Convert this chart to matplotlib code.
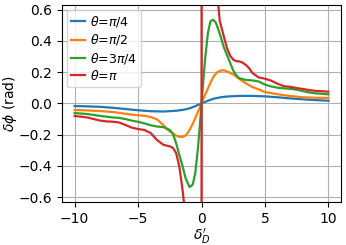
import matplotlib
matplotlib.use('Agg')
import matplotlib.pyplot as plt

# theta = pi/4
x_q1 = [-10, -9, -8, -7, -6, -5, -4, -3, -2, -1.5, -1, -0.5, 0,
        0.5, 1, 1.5, 2, 3, 4, 5, 6, 7, 8, 9, 10]
y_q1 = [-0.017, -0.019, -0.022, -0.028, -0.036, -0.044, -0.05, -0.052, -0.047, -0.042, -0.033, -0.018, 0,
        0.017, 0.031, 0.039, 0.044, 0.048, 0.048, 0.045, 0.039, 0.032, 0.026, 0.021, 0.017]

# theta = pi/2
x_q2 = [-10, -9, -8, -7, -6, -5.5, -5, -4.5, -4, -3.5, -3, -2.5, -2, -1.75, -1.5, -1.25, -1, -0.75, -0.5, -0.25, 0,
        0.25, 0.5, 0.75, 1, 1.25, 1.5, 1.75, 2, 2.5, 3, 3.5, 4, 4.5, 5, 5.5, 6, 7, 8, 9, 10]
y_q2 = [-0.042, -0.045, -0.049, -0.055, -0.066, -0.072, -0.076, -0.079, -0.087, -0.103, -0.14, -0.18, -0.206,
        -0.214, -0.215, -0.205, -0.178, -0.14, -0.095, -0.048, 0,
        0.05, 0.095, 0.14, 0.178, 0.2, 0.21, 0.212, 0.205, 0.185, 0.155, 0.128, 0.105, 0.09, 0.072, 0.066,
        0.058, 0.047, 0.039, 0.036, 0.035]

# theta = 3pi/4
x_q3 = [-10, -9, -8, -7, -6.5, -6, -5.5, -5, -4.5, -4, -3.5, -3, -2.5, -2.25, -2, -1.75, -1.5, -1.25, -0.95,
        -0.7, -0.5, -0.3, -0.15, 0,
        0.15, 0.3, 0.5, 0.7, 0.9, 1.1, 1.25, 1.5, 1.75, 2, 2.25, 2.5, 2.75, 3, 3.5, 4, 4.5, 5, 5.5, 6,
        6.5, 7, 7.5, 8, 8.5, 9, 10]
y_q3 = [-0.062, -0.068, -0.08, -0.09, -0.093, -0.1, -0.11, -0.118, -0.128, -0.14, -0.148, -0.152, -0.17,
        -0.195, -0.255, -0.33, -0.4, -0.48, -0.535, -0.52, -0.45, -0.3, -0.16, 0,
        0.16, 0.3, 0.45, 0.525, 0.535, 0.52, 0.49, 0.43, 0.36, 0.31, 0.26, 0.21, 0.178, 0.16, 0.15, 0.147,
        0.14, 0.12, 0.108, 0.1, 0.096, 0.093, 0.088, 0.078, 0.07, 0.064, 0.058]

# theta = pi
x_q4 = [-10, -9.5, -9, -8.5, -8, -7.5, -7, -6.5, -6, -5.5, -5, -4.5, -4, -3.5, -3, -2.5, -2.25, -2, -1.75,
        -1.5, -1.3, -1, -0.5, -0.01,
        0.01, 0.5, 1, 1.25, 1.43, 1.7, 2, 2.25, 2.5, 2.75, 3, 3.25, 3.5, 3.75, 4, 4.5, 5, 5.5, 6, 6.5, 7,
        7.5, 8, 8.5, 9, 10]
y_q4 = [-0.081, -0.085, -0.09, -0.1, -0.11, -0.115, -0.117, -0.122, -0.138, -0.155, -0.164, -0.17, -0.19,
        -0.235, -0.265, -0.275, -0.285, -0.318, -0.404, -0.55, -0.7, -1.2, -3, -60,
        60, 3, 1.1, 0.7, 0.53, 0.445, 0.355, 0.305, 0.28, 0.27, 0.268, 0.26, 0.245, 0.225, 0.195, 0.166,
        0.158, 0.145, 0.125, 0.11, 0.106, 0.098, 0.092, 0.085, 0.08, 0.075]

labels = [r'$\theta$=$\pi$/4', r'$\theta$=$\pi$/2', r'$\theta$=3$\pi$/4', r'$\theta$=$\pi$']

fig = plt.figure(figsize=(3.46, 2.45), dpi=100)
ax = fig.add_axes([0.179, 0.176, 0.807, 0.804])
for xs, ys, lab in zip([x_q1, x_q2, x_q3, x_q4], [y_q1, y_q2, y_q3, y_q4], labels):
    ax.plot(xs, ys, label=lab, linewidth=1.6)
ax.set_xlim(-11, 11)
ax.set_ylim(-0.63, 0.63)
ax.set_xticks([-10, -5, 0, 5, 10])
ax.set_yticks([-0.6, -0.4, -0.2, 0.0, 0.2, 0.4, 0.6])
ax.grid(True, color='#b0b0b0', linewidth=0.8)
ax.set_xlabel(r"$\delta_D'$", labelpad=1)
ax.set_ylabel(r'$\delta\phi$ (rad)', labelpad=0)
ax.legend(loc='upper left', fontsize=9, handlelength=1.1, handletextpad=0.4,
          labelspacing=0.25, borderpad=0.35, borderaxespad=0.4)
fig.savefig('out.png', dpi=100)
